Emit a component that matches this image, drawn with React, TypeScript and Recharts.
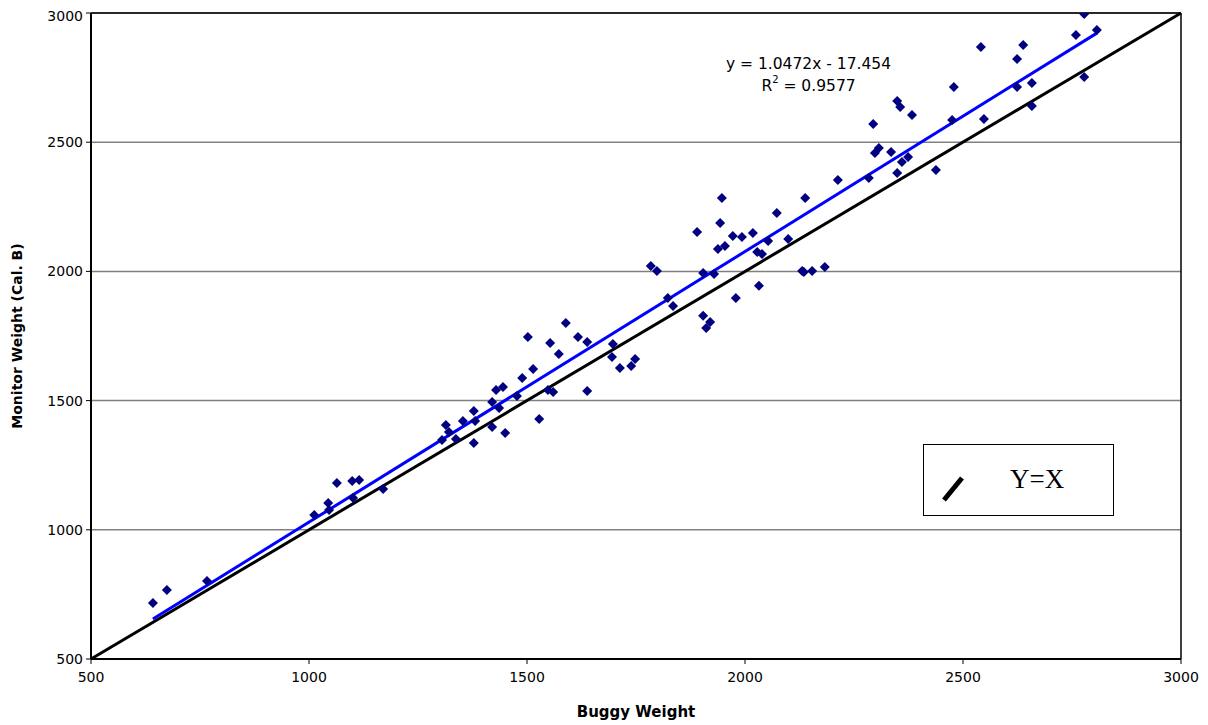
import React from 'react';
import { ScatterChart, Scatter, XAxis, YAxis, CartesianGrid, ReferenceLine, Label } from 'recharts';

const buggyWeight = [
  642, 674, 766, 1012, 1046, 1044, 1064, 1099, 1115, 1101, 1170,
  1305, 1314, 1321, 1337, 1353, 1378, 1381, 1378, 1420, 1420, 1436, 1450,
  1429, 1445, 1477, 1489, 1514, 1528, 1548, 1560, 1502, 1553, 1573, 1589,
  1617, 1638, 1638, 1697, 1695, 1713, 1739, 1748, 1784, 1798, 1823, 1835,
  1904, 1929, 1904, 1920, 1911, 1890, 1947, 1943, 1972, 1993, 2018, 1938,
  1954, 2028, 2039, 2053, 2073, 2099, 1979, 2032, 2138, 2131, 2135, 2154,
  2183, 2213, 2284, 2349, 2438, 2298, 2307, 2335, 2360, 2374, 2294, 2349,
  2356, 2383, 2475, 2479, 2548, 2541, 2624, 2624, 2638, 2658, 2658, 2759,
  2778, 2807, 2778,
];
const monitorWeight = [
  717, 767, 802, 1057, 1077, 1104, 1181, 1189, 1193, 1123, 1158,
  1348, 1406, 1378, 1351, 1421, 1460, 1421, 1336, 1495, 1398, 1471, 1375,
  1541, 1553, 1518, 1587, 1622, 1429, 1541, 1533, 1746, 1723, 1680, 1800,
  1746, 1727, 1537, 1719, 1669, 1626, 1634, 1661, 2021, 2002, 1897, 1866,
  1994, 1990, 1828, 1804, 1781, 2152, 2284, 2187, 2137, 2133, 2149, 2087,
  2098, 2075, 2067, 2118, 2226, 2125, 1897, 1944, 2284, 2002, 1998, 2002,
  2017, 2354, 2361, 2381, 2392, 2458, 2478, 2462, 2423, 2443, 2570, 2659,
  2636, 2605, 2586, 2714, 2590, 2868, 2714, 2822, 2876, 2729, 2640, 2915,
  2996, 2934, 2752,
];
const axisTicks = [500, 1000, 1500, 2000, 2500, 3000];
const trendSlope = 1.0472;
const trendIntercept = -17.454;
const trendRangeX = [642, 2807];
const identityRange = [500, 3000];

const points = buggyWeight.map((x, i) => ({ x, y: monitorWeight[i] }));
const trendSegment = trendRangeX.map((x) => ({ x, y: trendSlope * x + trendIntercept }));
const identitySegment = identityRange.map((v) => ({ x: v, y: v }));

const SANS = '"DejaVu Sans", "Liberation Sans", Arial, sans-serif';

const Diamond = (props: any) => {
  const { cx, cy } = props;
  if (cx == null || cy == null) return <g />;
  const r = 5;
  return (
    <path
      d={`M${cx},${cy - r}L${cx + r},${cy}L${cx},${cy + r}L${cx - r},${cy}Z`}
      fill="#000080"
    />
  );
};

export default function App() {
  return (
    <div style={{ position: 'relative', width: 1200, height: 717 }}>
      <ScatterChart width={1200} height={717} margin={{ top: 5, right: 27, bottom: 0, left: 0 }}>
        <CartesianGrid horizontal={true} vertical={false} stroke="#808080" strokeWidth={1.5} />
        <XAxis
          type="number"
          dataKey="x"
          domain={[500, 3000]}
          ticks={axisTicks}
          height={66}
          axisLine={{ stroke: '#000', strokeWidth: 2 }}
          tickLine={{ stroke: '#000' }}
          tickSize={5}
          tickMargin={8}
          tick={{ fontSize: 14, fill: '#000', fontFamily: SANS }}
          allowDataOverflow
        >
          <Label
            value="Buggy Weight"
            position="insideBottom"
            offset={8.5}
            style={{ fontSize: 15, fontWeight: 'bold', fill: '#000', fontFamily: SANS }}
          />
        </XAxis>
        <YAxis
          type="number"
          dataKey="y"
          domain={[500, 3000]}
          ticks={axisTicks}
          width={83}
          axisLine={{ stroke: '#000', strokeWidth: 2 }}
          tickLine={{ stroke: '#000' }}
          tickSize={5}
          tickMargin={3}
          tick={{ fontSize: 14, fill: '#000', fontFamily: SANS }}
          allowDataOverflow
        >
          <Label
            value="Monitor Weight (Cal. B)"
            angle={-90}
            position="insideLeft"
            offset={9}
            style={{ textAnchor: 'middle', fontSize: 14, fontWeight: 'bold', fill: '#000', fontFamily: SANS }}
          />
        </YAxis>
        <ReferenceLine y={3000} stroke="#000" strokeWidth={1.5} />
        <ReferenceLine x={3000} stroke="#000" strokeWidth={1.5} />
        <ReferenceLine segment={identitySegment} stroke="#000" strokeWidth={3} />
        <ReferenceLine segment={trendSegment} stroke="#0000FF" strokeWidth={3} />
        <Scatter data={points} shape={Diamond} isAnimationActive={false} />
      </ScatterChart>

      <div
        style={{
          position: 'absolute',
          left: 700,
          top: 45,
          width: 201,
          textAlign: 'center',
          fontFamily: SANS,
          fontSize: 15.5,
          lineHeight: '22px',
          color: '#000',
        }}
      >
        <div>y = 1.0472x - 17.454</div>
        <div>
          R<sup style={{ fontSize: 10, verticalAlign: 'top', lineHeight: '10px' }}>2</sup> = 0.9577
        </div>
      </div>

      <div
        style={{
          position: 'absolute',
          left: 915,
          top: 436,
          width: 189,
          height: 70,
          border: '1.5px solid #000',
          background: '#fff',
        }}
      >
        <svg width={40} height={40} style={{ position: 'absolute', left: 12, top: 20 }}>
          <line x1={8} y1={35} x2={26} y2={13} stroke="#000" strokeWidth={5} />
        </svg>
        <div
          style={{
            position: 'absolute',
            left: 86,
            top: 18,
            fontFamily: '"Liberation Serif", "Times New Roman", serif',
            fontSize: 27,
            lineHeight: '32px',
            color: '#000',
          }}
        >
          Y=X
        </div>
      </div>
    </div>
  );
}
